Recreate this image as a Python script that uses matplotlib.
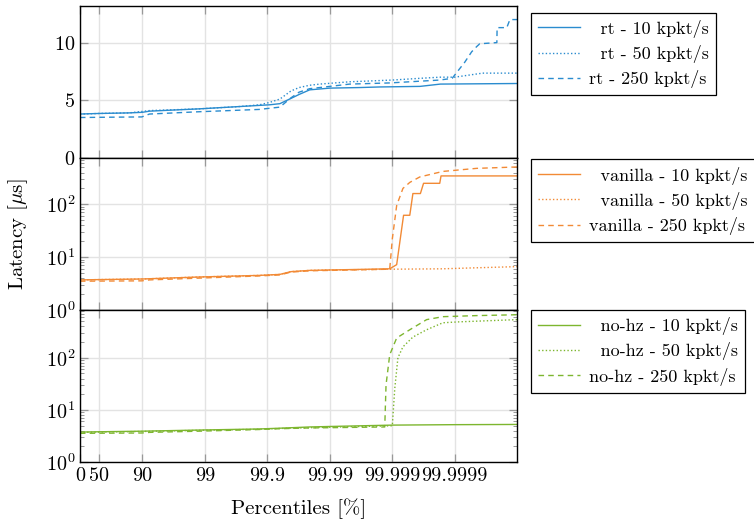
import numpy as np
import matplotlib
matplotlib.use('Agg')
import matplotlib.pyplot as plt
from matplotlib.ticker import LogLocator, NullLocator, FixedLocator

plt.rcParams['font.family'] = ['cmr10', 'DejaVu Serif']
plt.rcParams['mathtext.fontset'] = 'cm'
plt.rcParams['axes.formatter.use_mathtext'] = True
plt.rcParams['axes.unicode_minus'] = False

# percentile axis ticks
xticks = [0, 50, 90, 99, 99.9, 99.99, 99.999, 99.9999]
xtick_labels = ['0', '50', '90', '99', '99.9', '99.99', '99.999', '99.9999']

# --- rt kernel (linear latency, us) ---
rt10_p = [0, 51, 83.8, 90, 92.3, 96.9, 98.77, 99.72, 99.907, 99.937, 99.956, 99.969,
          99.979, 99.99, 99.9967, 99.9984, 99.99964, 99.99983, 99.99999]
rt10_v = [3.8, 3.85, 3.9, 3.95, 4.05, 4.15, 4.25, 4.45, 4.6, 4.7, 5.1, 5.5,
          5.9, 6.05, 6.1, 6.15, 6.2, 6.4, 6.45]

rt50_p = [0, 51, 83.8, 92.3, 98.77, 99.72, 99.865, 99.907, 99.937, 99.958, 99.969,
          99.979, 99.9856, 99.9952, 99.999, 99.99964, 99.99983, 99.9999, 99.999964, 99.99999]
rt50_v = [3.8, 3.85, 3.9, 4.1, 4.25, 4.45, 4.6, 4.8, 5.1, 5.8, 6.1,
          6.3, 6.4, 6.6, 6.75, 6.9, 7.0, 7.0, 7.35, 7.35]

rt250_p = [0, 89.8, 92.3, 98.77, 99.865, 99.937, 99.958, 99.969, 99.979, 99.99, 99.9952,
           99.9989, 99.999826, 99.99989, 99.9999067, 99.9999308, 99.9999463, 99.9999553,
           99.9999602, 99.9999788, 99.999979, 99.9999853, 99.9999869, 99.99999]
rt250_v = [3.5, 3.55, 3.8, 4.0, 4.2, 4.4, 5.2, 5.7, 6.0, 6.2, 6.4,
           6.5, 6.75, 6.9, 7.4, 8.3, 9.2, 9.65,
           9.9, 10.0, 11.3, 11.3, 12.0, 12.0]

# --- vanilla kernel ---
van10_p = [0, 51, 90, 98.77, 99.865, 99.937, 99.958, 99.979, 99.99, 99.9989, 99.999149,
           99.99934, 99.999475, 99.999532, 99.999645, 99.999684, 99.999826, 99.999834, 99.99999]
van10_v = [3.7, 3.75, 3.85, 4.2, 4.5, 4.7, 5.3, 5.6, 5.7, 6.0, 7.2,
           62, 62, 160, 160, 250, 250, 345, 345]

van50_p = [0, 51, 90, 98.77, 99.865, 99.937, 99.958, 99.979, 99.99, 99.999, 99.99984,
           99.99996, 99.99999]
van50_v = [3.7, 3.75, 3.85, 4.2, 4.5, 4.7, 5.3, 5.6, 5.7, 5.9, 6.0, 6.3, 6.6]

van250_p = [0, 89.8, 92.3, 98.77, 99.865, 99.937, 99.958, 99.979, 99.99, 99.9989, 99.999,
            99.999149, 99.999324, 99.999475, 99.999637, 99.999845, 99.9999553, 99.99999]
van250_v = [3.5, 3.55, 3.7, 4.0, 4.4, 4.6, 5.2, 5.5, 5.6, 5.9, 22,
            95, 200, 260, 330, 420, 480, 510]

# --- no-hz kernel ---
nohz10_p = [0, 51, 90, 98.77, 99.865, 99.937, 99.979, 99.99, 99.999, 99.9999, 99.99999]
nohz10_v = [3.75, 3.8, 3.9, 4.1, 4.3, 4.45, 4.7, 4.8, 5.1, 5.2, 5.25]

nohz50_p = [0, 51, 90, 98.77, 99.865, 99.937, 99.979, 99.99, 99.999, 99.999088, 99.999187,
            99.999324, 99.999532, 99.999718, 99.999845, 99.9999168, 99.99999]
nohz50_v = [3.7, 3.75, 3.85, 4.05, 4.25, 4.4, 4.55, 4.65, 4.95, 26, 100,
            162, 250, 345, 470, 490, 540]

nohz250_p = [0, 89.8, 92.3, 98.77, 99.865, 99.937, 99.979, 99.99, 99.99868, 99.99874,
             99.9989, 99.999149, 99.999475, 99.999718, 99.999845, 99.9999553, 99.99999]
nohz250_v = [3.55, 3.6, 3.7, 3.9, 4.2, 4.35, 4.5, 4.55, 4.7, 30,
             114, 240, 345, 540, 615, 645, 670]

loads = ['10', '50', '250']
styles = ['-', (0, (1, 1.6)), (0, (4, 3))]

panels = [
    ('rt', '#2a8ccf', [(rt10_p, rt10_v), (rt50_p, rt50_v), (rt250_p, rt250_v)]),
    ('vanilla', '#f28a35', [(van10_p, van10_v), (van50_p, van50_v), (van250_p, van250_v)]),
    ('no-hz', '#7db62f', [(nohz10_p, nohz10_v), (nohz50_p, nohz50_v), (nohz250_p, nohz250_v)]),
]


def fwd(p):
    p = np.asarray(p, dtype=float)
    with np.errstate(divide='ignore', invalid='ignore'):
        return -np.log10(1 - p / 100)


def inv(d):
    d = np.asarray(d, dtype=float)
    return 100 * (1 - 10 ** (-d))


fig, axes = plt.subplots(3, 1, figsize=(7.54, 5.22), dpi=100, sharex=True)
fig.subplots_adjust(left=0.106, right=0.686, top=0.989, bottom=0.115, hspace=0.0)

legend_tops = [0.955, 0.99, 1.0]

for i, (ax, (name, color, series)) in enumerate(zip(axes, panels)):
    for (p, v), load, ls in zip(series, loads, styles):
        # right-align the legend text like the original by padding short loads
        pad = '\u2007' if len(load) < 3 else ''
        ax.plot(p, v, color=color, linestyle=ls, lw=1.0, label=f'{pad}{name} - {load} kpkt/s')
    ax.set_xscale('function', functions=(fwd, inv))
    ax.set_xlim(0, 99.99999)
    if i == 0:
        ax.set_ylim(0, 13.2)
        ax.set_yticks([0, 5, 10])
    else:
        ax.set_yscale('log')
        ax.set_ylim(1, 760 if i == 1 else 830)
        ax.yaxis.set_major_locator(LogLocator(base=10, numticks=10))
        ax.yaxis.set_minor_locator(LogLocator(base=10, subs=np.arange(2, 10), numticks=10))
    ax.grid(True, which='major', color='#e3e3e3', lw=1.0)
    ax.set_axisbelow(True)
    ax.tick_params(which='both', direction='in', top=True, right=True, color='#999999',
                   labelsize=14.5, labelcolor='black')
    ax.tick_params(which='major', length=6, width=0.9)
    ax.tick_params(which='minor', length=3, width=0.7)
    for sp in ax.spines.values():
        sp.set_color('black')
        sp.set_linewidth(1.0)
    leg = ax.legend(loc='upper left', bbox_to_anchor=(1.032, legend_tops[i]), fontsize=13,
                    frameon=True, fancybox=False, edgecolor='black', framealpha=1,
                    borderaxespad=0, handlelength=2.3, handletextpad=0.5, labelspacing=0.4)
    leg.get_frame().set_linewidth(0.9)

axes[-1].xaxis.set_major_locator(FixedLocator(xticks))
axes[-1].set_xticks(xticks)
axes[-1].set_xticklabels(xtick_labels)
axes[-1].xaxis.set_minor_locator(NullLocator())
axes[-1].set_xlabel('Percentiles [%]', fontsize=15, labelpad=10)
axes[1].set_ylabel(r'Latency [$\mu$s]', fontsize=15)
axes[1].yaxis.set_label_coords(-0.115, 0.5)

fig.savefig('out.png', dpi=100)
